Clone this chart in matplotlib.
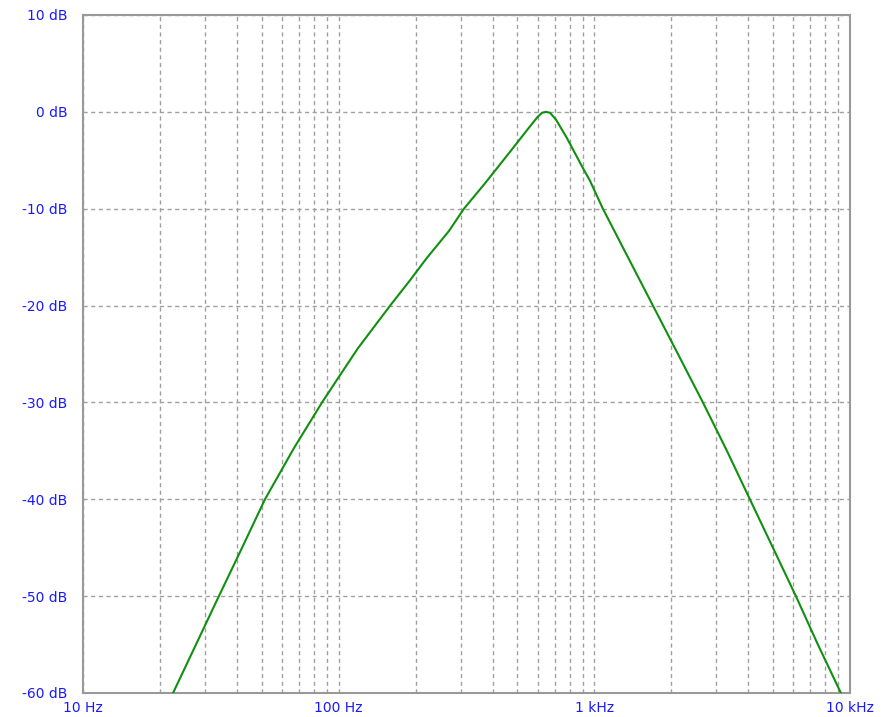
import numpy as np
import matplotlib
matplotlib.use("Agg")
import matplotlib.pyplot as plt
from matplotlib.ticker import FixedLocator, NullFormatter

# response (Hz, dB)
freq = [22.5, 34, 41.9, 51.5, 66.9, 86.1, 99.4, 119, 159, 190, 221, 270, 309,
        373, 472, 560, 601, 624, 647, 671, 708, 781, 902, 961,
        1080, 1353, 1695, 2123, 2659, 3301, 4059, 4995, 6143, 7489, 9214]
gain = [-60, -50, -45, -40, -34.7, -30, -27.5, -24.4, -20, -17.4, -15.1, -12.3, -10,
        -7.4, -4.0, -1.5, -0.5, -0.1, 0, -0.1, -0.8, -2.7, -5.8, -7.1,
        -10, -15, -20, -25, -30, -35, -40, -45, -50, -55, -60]

x_ticks = [10, 100, 1000, 10000]
x_labels = ["10 Hz", "100 Hz", "1 kHz", "10 kHz"]
y_ticks = [10, 0, -10, -20, -30, -40, -50, -60]
y_labels = ["10 dB", "0 dB", "-10 dB", "-20 dB", "-30 dB", "-40 dB", "-50 dB", "-60 dB"]

blue = "#1a1aff"
gridc = "#a0a0a0"

fig = plt.figure(figsize=(8.84, 7.17), dpi=100)
ax = fig.add_axes([83/884, 24/717, 767/884, 678/717])

ax.plot(freq, gain, color="#109010", lw=1.5, zorder=3)

ax.set_xscale("log")
ax.set_xlim(10, 10000)
ax.set_ylim(-60, 10)

minors = [m * d for d in (10, 100, 1000) for m in range(2, 10)]
ax.xaxis.set_major_locator(FixedLocator(x_ticks))
ax.xaxis.set_minor_locator(FixedLocator(minors))
ax.xaxis.set_minor_formatter(NullFormatter())
ax.set_xticks(x_ticks)
ax.set_xticklabels(x_labels)
ax.set_yticks(y_ticks)
ax.set_yticklabels(y_labels)

ax.tick_params(axis="both", which="both", length=0, colors=blue, labelsize=10)
ax.tick_params(axis="x", pad=6)
ax.tick_params(axis="y", pad=11)

ax.grid(True, which="both", axis="x", color=gridc, ls=(0, (3, 2.5)), lw=1)
ax.grid(True, which="major", axis="y", color=gridc, ls=(0, (3, 2.5)), lw=1)

for s in ax.spines.values():
    s.set_color("#999999")
    s.set_linewidth(1.5)

fig.savefig("out.png", dpi=100)
